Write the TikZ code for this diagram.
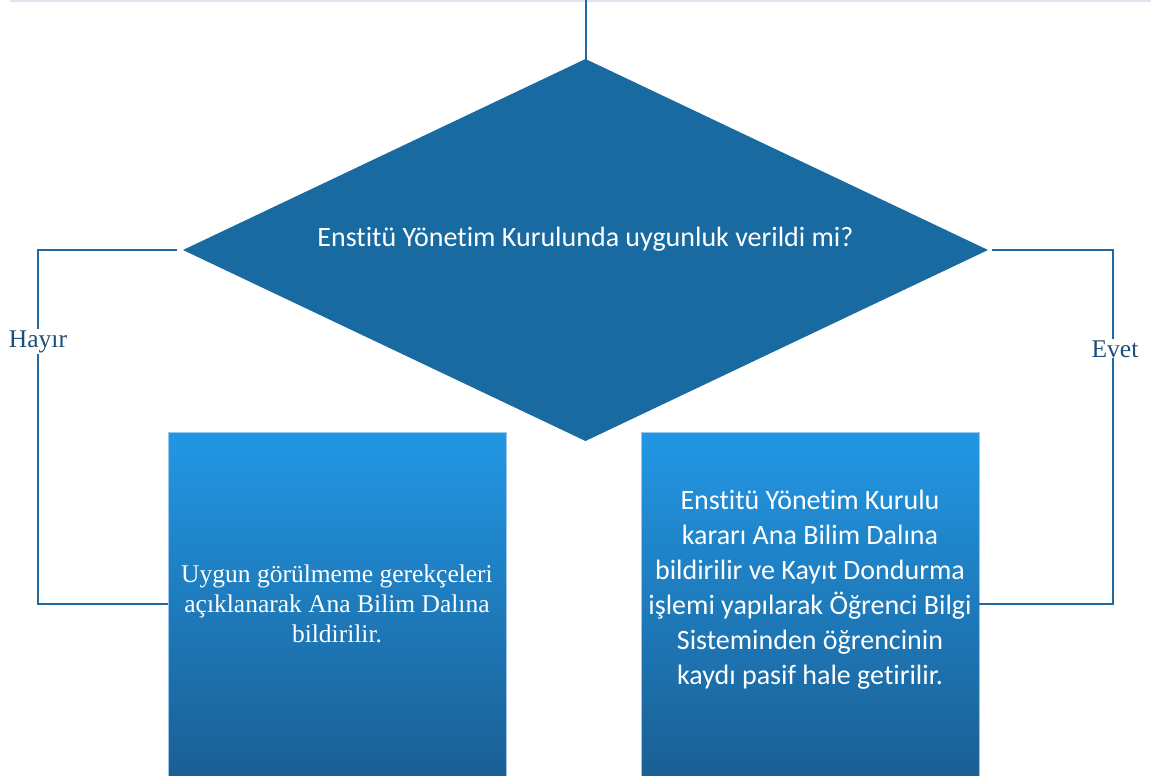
\documentclass[tikz,border=0pt]{standalone}
\usepackage{fontspec}
\setmainfont{Liberation Serif}
\newfontfamily\calibri[Ligatures=NoCommon]{Carlito}
\usetikzlibrary{shapes.geometric,positioning}

\definecolor{decBlue}{HTML}{1A6AA2}
\definecolor{lineBlue}{HTML}{1F68A0}
\definecolor{boxTop}{HTML}{2297E4}
\definecolor{boxBottom}{HTML}{1A5F94}
\definecolor{boxEdge}{HTML}{9CC6EC}
\definecolor{answerBlue}{HTML}{1F4E79}
\definecolor{ruleGrey}{HTML}{DDE6F0}

\begin{document}
\begin{tikzpicture}[x=1pt,y=-1pt,>=stealth]

    \tikzstyle{commonNode}=[align=center, inner sep=0pt, outer sep=0pt, text=white]
    \tikzstyle{decision}=[commonNode, diamond, aspect=2.1, fill=decBlue, minimum width=805pt, minimum height=382pt, font=\calibri\fontsize{28}{34}\selectfont, text depth=27pt]
    \tikzstyle{outcome}=[commonNode, rectangle, top color=boxTop, bottom color=boxBottom, draw=boxEdge, line width=0.8pt, minimum width=338pt, minimum height=344pt]
    \tikzstyle{outcomeSerif}=[outcome, font=\fontsize{25.5}{30}\selectfont]
    \tikzstyle{outcomeSans}=[outcome, font=\calibri\fontsize{28}{35}\selectfont, text depth=33pt]
    \tikzstyle{connector}=[draw=lineBlue, line width=2pt]
    \tikzstyle{answer}=[fill=white, text=answerBlue, font=\fontsize{25.5}{30}\selectfont, inner sep=1pt, anchor=base]

    % Frame
    \useasboundingbox (0,0) rectangle (1151,776);
    \draw[ruleGrey, line width=1.5pt] (10,1) -- (1151,1);

    % Decision
    \coordinate (entry) at (585.5,0);
    \node at (585.5,250) [decision] (dec) {Enstitü Yönetim Kurulunda uygunluk verildi mi?};

    % Outcomes
    \node at (337,604) [outcomeSerif] (no) {Uygun görülmeme gerekçeleri\\açıklanarak Ana Bilim Dalına\\bildirilir.};
    \node at (810,604) [outcomeSans] (yes) {Enstitü Yönetim Kurulu\\kararı Ana Bilim Dalına\\bildirilir ve Kayıt Dondurma\\işlemi yapılarak Öğrenci Bilgi\\Sisteminden öğrencinin\\kaydı pasif hale getirilir.};

    % Connectors
    \draw[connector] (entry) -- ([yshift=-1pt]dec.north);
    \draw[connector, shorten <=6pt] (dec.west) -- ++(-145,0) |- (no.west);
    \draw[connector, shorten <=4pt] (dec.east) -- ++(125,0) |- (yes.east);

    % Answers
    \node at (38,347) [answer] (labNo) {Hayır};
    \node at (1115,357) [answer] (labYes) {Evet};

\end{tikzpicture}
\end{document}
